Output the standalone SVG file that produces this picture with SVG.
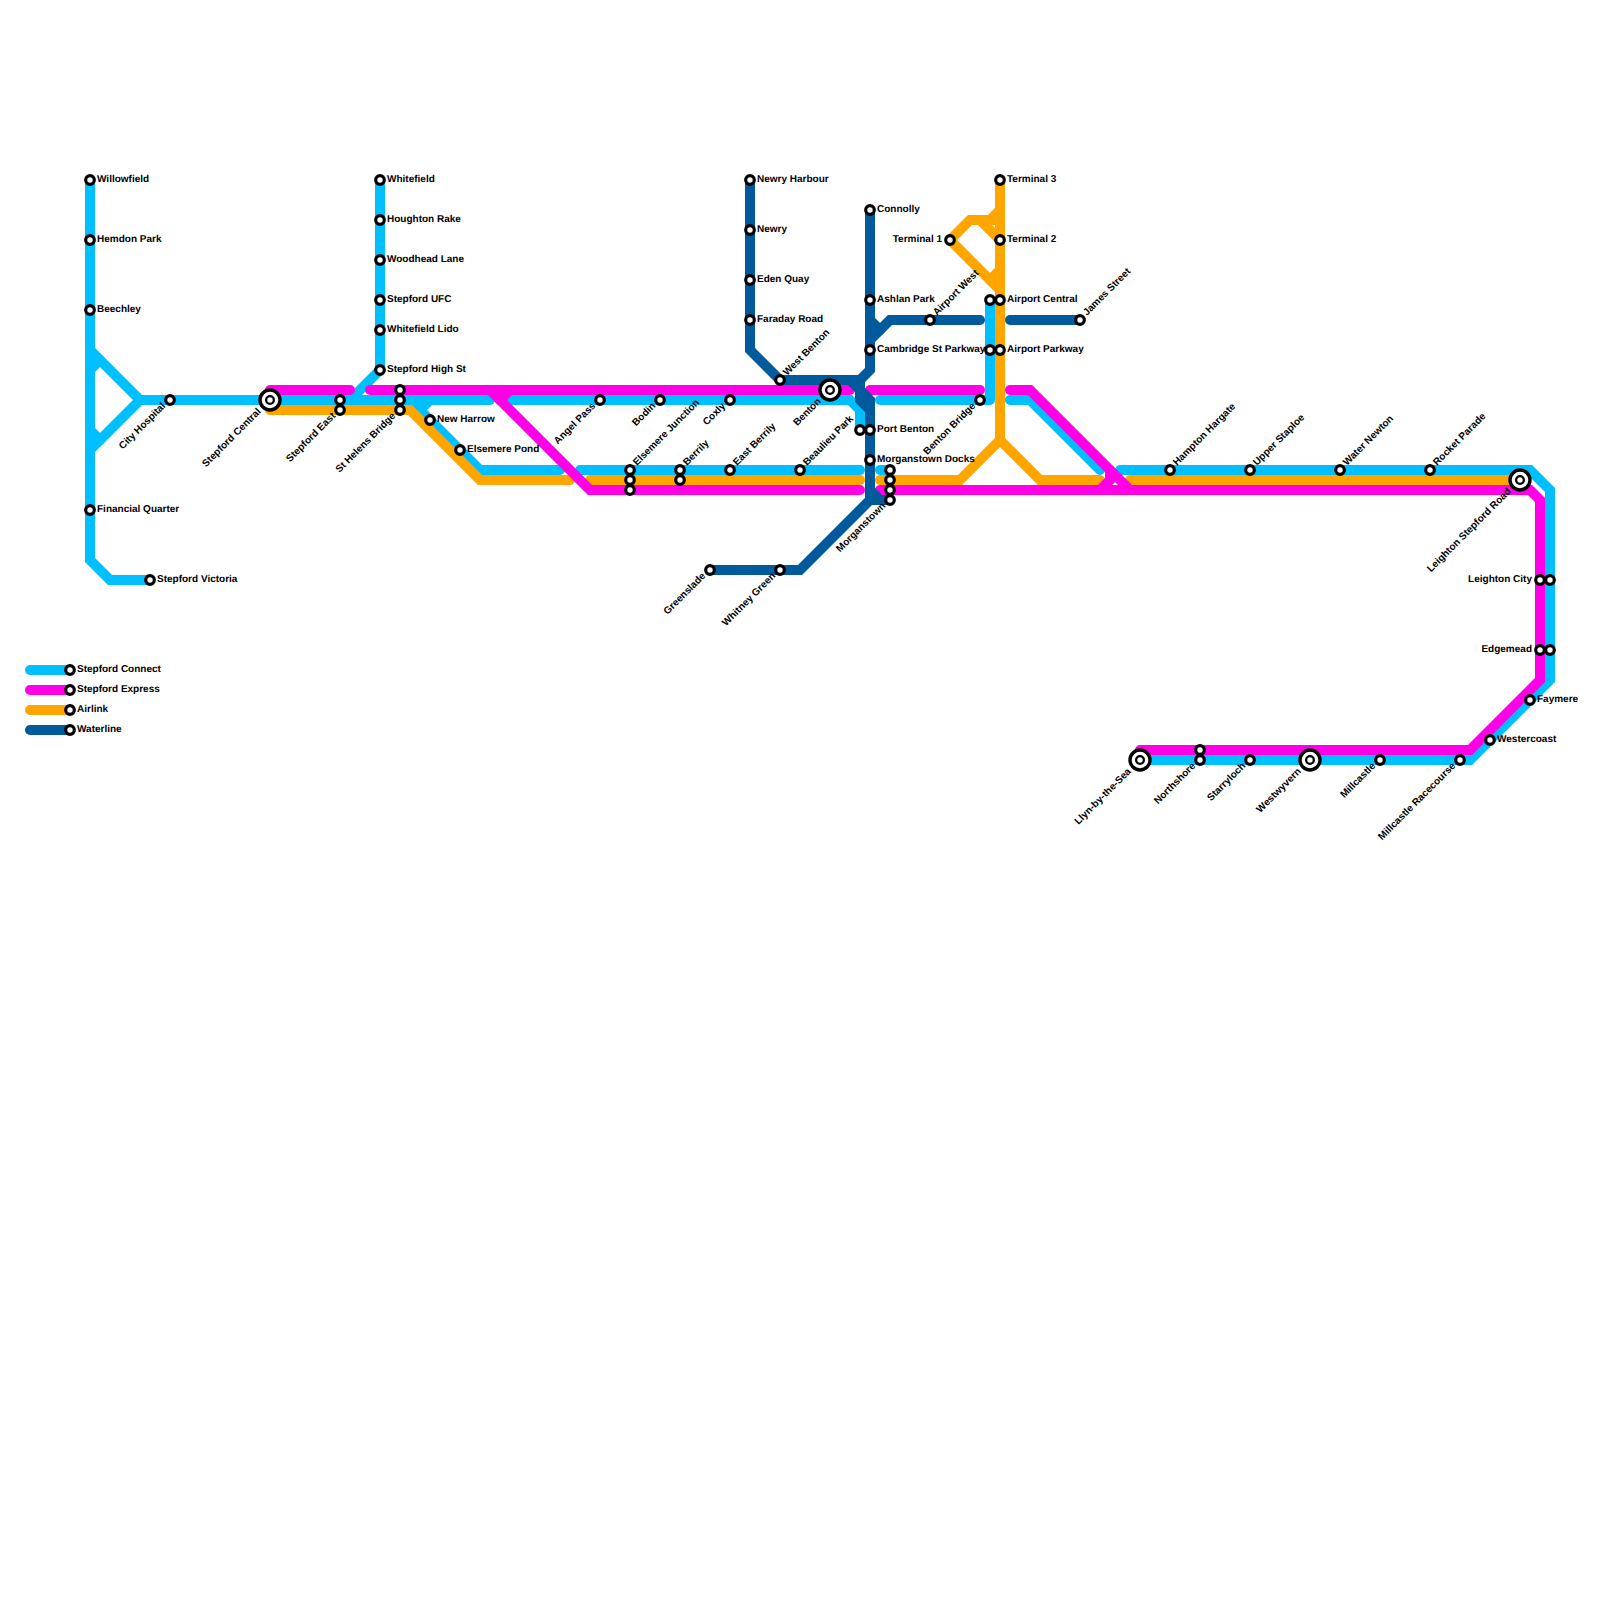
<svg xmlns="http://www.w3.org/2000/svg" width="1600" height="1600" viewBox="0 0 1600 1600">
<style>
.l{fill:none;stroke-width:10;stroke-linecap:round;stroke-linejoin:miter;stroke-miterlimit:4}
.b{stroke:#00bfff}.o{stroke:#ffa500}.m{stroke:#ff00e6}.n{stroke:#005a9c}
.rj{stroke-linejoin:round}
.s{fill:#fff;stroke:#000;stroke-width:3.2}
.c{fill:#fff;stroke:#000;stroke-width:3.4}
.d{fill:#fff;stroke:#000;stroke-width:2.3}
text{font-family:"Liberation Sans",Arial,sans-serif;font-size:10px;font-weight:700;fill:#000;text-rendering:geometricPrecision}
.e{text-anchor:end}
</style>
<rect width="1600" height="1600" fill="#fff"/>
<g id="connectors">
<g id="line-connect">
<path class="l b" d="M90 180V560L110 580H150"/>
<path class="l b" d="M90 350L140 400L90 450"/>
<path class="l b" d="M90 370L100 360"/>
<path class="l b" d="M90 430L100 440"/>
<path class="l b" d="M140 400H490"/>
<path class="l b" d="M380 180V370L350 400"/>
<path class="l b" d="M410 400L480 470H560"/>
<path class="l b" d="M420 410L430 400"/>
<path class="l b" d="M510 400H850L860 410V430"/>
<path class="l b" d="M580 470H860"/>
<path class="l b" d="M880 470H890"/>
<path class="l b rj" d="M880 400H990V300"/>
<path class="l b" d="M1010 400H1030L1100 470"/>
<path class="l b" d="M1120 470H1530L1550 490V680L1470 760H1140"/>
<path class="l b" d="M30 670H70"/>
</g>
<g id="line-airlink">
<path class="l o" d="M270 410H410L480 480H570"/>
<path class="l o" d="M590 480H860"/>
<path class="l o" d="M880 480H960L1000 440L1040 480H1100"/>
<path class="l o" d="M1000 180V440"/>
<path class="l o" d="M950 240L970 220H1000"/>
<path class="l o" d="M990 220L1000 210"/>
<path class="l o" d="M980 220L1000 240"/>
<path class="l o" d="M950 240L1000 290"/>
<path class="l o" d="M990 280L1000 270"/>
<path class="l o" d="M1130 480H1520"/>
<path class="l o" d="M30 710H70"/>
</g>
<g id="line-express">
<path class="l m" d="M270 390H350"/>
<path class="l m" d="M370 390H850"/>
<path class="l m" d="M490 390L590 490H860"/>
<path class="l m" d="M500 400L510 390"/>
<path class="l m" d="M870 390H980"/>
<path class="l m" d="M1010 390H1030L1130 490"/>
<path class="l m" d="M880 490H1530L1540 500V680L1470 750H1140"/>
<path class="l m" d="M1100 490L1110 480V470"/>
<path class="l m" d="M30 690H70"/>
</g>
<g id="line-waterline">
<path class="l n" d="M750 180V350L780 380H860L870 370V210"/>
<path class="l n" d="M870 320L880 330"/>
<path class="l n" d="M870 340L890 320H980"/>
<path class="l n" d="M1010 320H1080"/>
<path class="l n" d="M850 380L870 400V500"/>
<path class="l n" d="M860 380V400L870 410"/>
<path class="l n" d="M870 490L880 500"/>
<path class="l n" d="M890 500H870L800 570H710"/>
<path class="l n" d="M30 730H70"/>
</g>
</g>
<g id="legend">
<g id="key-connect"><circle class="s" cx="70" cy="670" r="4.3"/><text x="77" y="672.4">Stepford Connect</text></g>
<g id="key-express"><circle class="s" cx="70" cy="690" r="4.3"/><text x="77" y="692.4">Stepford Express</text></g>
<g id="key-airlink"><circle class="s" cx="70" cy="710" r="4.3"/><text x="77" y="712.4">Airlink</text></g>
<g id="key-waterline"><circle class="s" cx="70" cy="730" r="4.3"/><text x="77" y="732.4">Waterline</text></g>
</g>
<g id="stations">
<g id="willowfield"><circle class="s" cx="90" cy="180" r="4.3"/><text x="97" y="182.4">Willowfield</text></g>
<g id="hemdon-park"><circle class="s" cx="90" cy="240" r="4.3"/><text x="97" y="242.4">Hemdon Park</text></g>
<g id="beechley"><circle class="s" cx="90" cy="310" r="4.3"/><text x="97" y="312.4">Beechley</text></g>
<g id="financial-quarter"><circle class="s" cx="90" cy="510" r="4.3"/><text x="97" y="512.4">Financial Quarter</text></g>
<g id="stepford-victoria"><circle class="s" cx="150" cy="580" r="4.3"/><text x="157" y="582.4">Stepford Victoria</text></g>
<g id="city-hospital"><circle class="s" cx="170" cy="400" r="4.3"/><text class="e" transform="translate(166 406.5) rotate(-45)">City Hospital</text></g>
<g id="stepford-central"><circle class="c" cx="270" cy="400" r="10"/><circle class="d" cx="270" cy="400" r="3.85"/><text class="e" transform="translate(261.5 412) rotate(-45)">Stepford Central</text></g>
<g id="stepford-east"><circle class="s" cx="340" cy="400" r="4.3"/><circle class="s" cx="340" cy="410" r="4.3"/><text class="e" transform="translate(336 416.5) rotate(-45)">Stepford East</text></g>
<g id="st-helens-bridge"><circle class="s" cx="400" cy="390" r="4.3"/><circle class="s" cx="400" cy="400" r="4.3"/><circle class="s" cx="400" cy="410" r="4.3"/><text class="e" transform="translate(396 416.5) rotate(-45)">St Helens Bridge</text></g>
<g id="whitefield"><circle class="s" cx="380" cy="180" r="4.3"/><text x="387" y="182.4">Whitefield</text></g>
<g id="houghton-rake"><circle class="s" cx="380" cy="220" r="4.3"/><text x="387" y="222.4">Houghton Rake</text></g>
<g id="woodhead-lane"><circle class="s" cx="380" cy="260" r="4.3"/><text x="387" y="262.4">Woodhead Lane</text></g>
<g id="stepford-ufc"><circle class="s" cx="380" cy="300" r="4.3"/><text x="387" y="302.4">Stepford UFC</text></g>
<g id="whitefield-lido"><circle class="s" cx="380" cy="330" r="4.3"/><text x="387" y="332.4">Whitefield Lido</text></g>
<g id="stepford-high-st"><circle class="s" cx="380" cy="370" r="4.3"/><text x="387" y="372.4">Stepford High St</text></g>
<g id="new-harrow"><circle class="s" cx="430" cy="420" r="4.3"/><text x="437" y="422.4">New Harrow</text></g>
<g id="elsemere-pond"><circle class="s" cx="460" cy="450" r="4.3"/><text x="467" y="452.4">Elsemere Pond</text></g>
<g id="angel-pass"><circle class="s" cx="600" cy="400" r="4.3"/><text class="e" transform="translate(596 406.5) rotate(-45)">Angel Pass</text></g>
<g id="bodin"><circle class="s" cx="660" cy="400" r="4.3"/><text class="e" transform="translate(656 406.5) rotate(-45)">Bodin</text></g>
<g id="coxly"><circle class="s" cx="730" cy="400" r="4.3"/><text class="e" transform="translate(726 406.5) rotate(-45)">Coxly</text></g>
<g id="elsemere-junction"><circle class="s" cx="630" cy="470" r="4.3"/><circle class="s" cx="630" cy="480" r="4.3"/><circle class="s" cx="630" cy="490" r="4.3"/><text transform="translate(637 466) rotate(-45)">Elsemere Junction</text></g>
<g id="berrily"><circle class="s" cx="680" cy="470" r="4.3"/><circle class="s" cx="680" cy="480" r="4.3"/><text transform="translate(687 466) rotate(-45)">Berrily</text></g>
<g id="east-berrily"><circle class="s" cx="730" cy="470" r="4.3"/><text transform="translate(737 466) rotate(-45)">East Berrily</text></g>
<g id="beaulieu-park"><circle class="s" cx="800" cy="470" r="4.3"/><text transform="translate(807 466) rotate(-45)">Beaulieu Park</text></g>
<g id="newry-harbour"><circle class="s" cx="750" cy="180" r="4.3"/><text x="757" y="182.4">Newry Harbour</text></g>
<g id="newry"><circle class="s" cx="750" cy="230" r="4.3"/><text x="757" y="232.4">Newry</text></g>
<g id="eden-quay"><circle class="s" cx="750" cy="280" r="4.3"/><text x="757" y="282.4">Eden Quay</text></g>
<g id="faraday-road"><circle class="s" cx="750" cy="320" r="4.3"/><text x="757" y="322.4">Faraday Road</text></g>
<g id="west-benton"><circle class="s" cx="780" cy="380" r="4.3"/><text transform="translate(787 376) rotate(-45)">West Benton</text></g>
<g id="benton"><circle class="c" cx="830" cy="390" r="10"/><circle class="d" cx="830" cy="390" r="3.85"/><text class="e" transform="translate(821.5 402) rotate(-45)">Benton</text></g>
<g id="greenslade"><circle class="s" cx="710" cy="570" r="4.3"/><text class="e" transform="translate(706 576.5) rotate(-45)">Greenslade</text></g>
<g id="whitney-green"><circle class="s" cx="780" cy="570" r="4.3"/><text class="e" transform="translate(776 576.5) rotate(-45)">Whitney Green</text></g>
<g id="connolly"><circle class="s" cx="870" cy="210" r="4.3"/><text x="877" y="212.4">Connolly</text></g>
<g id="ashlan-park"><circle class="s" cx="870" cy="300" r="4.3"/><text x="877" y="302.4">Ashlan Park</text></g>
<g id="cambridge-st-parkway"><circle class="s" cx="870" cy="350" r="4.3"/><circle class="s" cx="990" cy="350" r="4.3"/><text x="877" y="352.4">Cambridge St Parkway</text></g>
<g id="port-benton"><circle class="s" cx="860" cy="430" r="4.3"/><circle class="s" cx="870" cy="430" r="4.3"/><text x="877" y="432.4">Port Benton</text></g>
<g id="morganstown-docks"><circle class="s" cx="870" cy="460" r="4.3"/><text x="877" y="462.4">Morganstown Docks</text></g>
<g id="morganstown"><circle class="s" cx="890" cy="470" r="4.3"/><circle class="s" cx="890" cy="480" r="4.3"/><circle class="s" cx="890" cy="490" r="4.3"/><circle class="s" cx="890" cy="500" r="4.3"/><text class="e" transform="translate(886 506.5) rotate(-45)">Morganstown</text></g>
<g id="airport-west"><circle class="s" cx="930" cy="320" r="4.3"/><text transform="translate(937 316) rotate(-45)">Airport West</text></g>
<g id="james-street"><circle class="s" cx="1080" cy="320" r="4.3"/><text transform="translate(1087 316) rotate(-45)">James Street</text></g>
<g id="terminal-1"><circle class="s" cx="950" cy="240" r="4.3"/><text class="e" x="942" y="242.4">Terminal 1</text></g>
<g id="terminal-2"><circle class="s" cx="1000" cy="240" r="4.3"/><text x="1007" y="242.4">Terminal 2</text></g>
<g id="terminal-3"><circle class="s" cx="1000" cy="180" r="4.3"/><text x="1007" y="182.4">Terminal 3</text></g>
<g id="airport-central"><circle class="s" cx="990" cy="300" r="4.3"/><circle class="s" cx="1000" cy="300" r="4.3"/><text x="1007" y="302.4">Airport Central</text></g>
<g id="airport-parkway"><circle class="s" cx="1000" cy="350" r="4.3"/><text x="1007" y="352.4">Airport Parkway</text></g>
<g id="benton-bridge"><circle class="s" cx="980" cy="400" r="4.3"/><text class="e" transform="translate(976 406.5) rotate(-45)">Benton Bridge</text></g>
<g id="hampton-hargate"><circle class="s" cx="1170" cy="470" r="4.3"/><text transform="translate(1177 466) rotate(-45)">Hampton Hargate</text></g>
<g id="upper-staploe"><circle class="s" cx="1250" cy="470" r="4.3"/><text transform="translate(1257 466) rotate(-45)">Upper Staploe</text></g>
<g id="water-newton"><circle class="s" cx="1340" cy="470" r="4.3"/><text transform="translate(1347 466) rotate(-45)">Water Newton</text></g>
<g id="rocket-parade"><circle class="s" cx="1430" cy="470" r="4.3"/><text transform="translate(1437 466) rotate(-45)">Rocket Parade</text></g>
<g id="leighton-stepford-road"><circle class="c" cx="1520" cy="480" r="10"/><circle class="d" cx="1520" cy="480" r="3.85"/><text class="e" transform="translate(1511.5 492) rotate(-45)">Leighton Stepford Road</text></g>
<g id="leighton-city"><circle class="s" cx="1540" cy="580" r="4.3"/><circle class="s" cx="1550" cy="580" r="4.3"/><text class="e" x="1532" y="582.4">Leighton City</text></g>
<g id="edgemead"><circle class="s" cx="1540" cy="650" r="4.3"/><circle class="s" cx="1550" cy="650" r="4.3"/><text class="e" x="1532" y="652.4">Edgemead</text></g>
<g id="faymere"><circle class="s" cx="1530" cy="700" r="4.3"/><text x="1537" y="702.4">Faymere</text></g>
<g id="westercoast"><circle class="s" cx="1490" cy="740" r="4.3"/><text x="1497" y="742.4">Westercoast</text></g>
<g id="millcastle-racecourse"><circle class="s" cx="1460" cy="760" r="4.3"/><text class="e" transform="translate(1456 766.5) rotate(-45)">Millcastle Racecourse</text></g>
<g id="millcastle"><circle class="s" cx="1380" cy="760" r="4.3"/><text class="e" transform="translate(1376 766.5) rotate(-45)">Millcastle</text></g>
<g id="westwyvern"><circle class="c" cx="1310" cy="760" r="10"/><circle class="d" cx="1310" cy="760" r="3.85"/><text class="e" transform="translate(1301.5 772) rotate(-45)">Westwyvern</text></g>
<g id="starryloch"><circle class="s" cx="1250" cy="760" r="4.3"/><text class="e" transform="translate(1246 766.5) rotate(-45)">Starryloch</text></g>
<g id="northshore"><circle class="s" cx="1200" cy="750" r="4.3"/><circle class="s" cx="1200" cy="760" r="4.3"/><text class="e" transform="translate(1196 766.5) rotate(-45)">Northshore</text></g>
<g id="llyn-by-the-sea"><circle class="c" cx="1140" cy="760" r="10"/><circle class="d" cx="1140" cy="760" r="3.85"/><text class="e" transform="translate(1131.5 772) rotate(-45)">Llyn-by-the-Sea</text></g>
</g>
</svg>
